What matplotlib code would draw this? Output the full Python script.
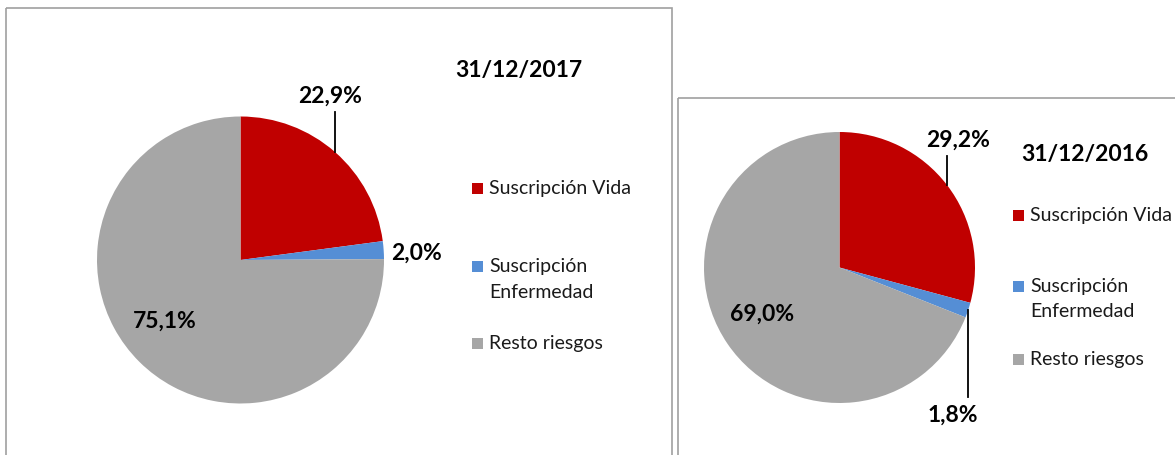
import textwrap
import numpy as np
import matplotlib
matplotlib.use("Agg")
import matplotlib.pyplot as plt
from matplotlib.patches import Rectangle

plt.rcParams['font.family'] = ['Lato', 'DejaVu Sans']

# ---- data ----
categories = ["Suscripción Vida", "Suscripción Enfermedad", "Resto riesgos"]
colors = ["#C00000", "#558ED5", "#A6A6A6"]
titles = ["31/12/2017", "31/12/2016"]
values_2017 = [22.9, 2.0, 75.1]
values_2016 = [29.2, 1.8, 69.0]
labels_2017 = ["22,9%", "2,0%", "75,1%"]
labels_2016 = ["29,2%", "1,8%", "69,0%"]

W, H = 1175, 455
fig = plt.figure(figsize=(W / 100, H / 100), dpi=100)

# ---- layout (pixels) ----
panels = [
    dict(values=values_2017, labels=labels_2017, title=titles[0],
         box=(6, 8, 672, 470), center=(240.5, 260), r=143.5,
         title_xy=(519, 77),
         label_xy=[(330, 103), (417, 260), (165, 328)],
         leader=[True, False, False],
         leg_x=472, leg_base=[194, 272, 349], leg_line=26),
    dict(values=values_2016, labels=labels_2016, title=titles[1],
         box=(678, 98, 1180, 470), center=(839.5, 267.5), r=135.5,
         title_xy=(1085, 161),
         label_xy=[(958, 147), (953, 422), (762, 321)],
         leader=[True, True, False],
         leg_x=1013, leg_base=[221, 292, 365], leg_line=25),
]

overlay = fig.add_axes([0, 0, 1, 1], zorder=5)
overlay.set_xlim(0, W)
overlay.set_ylim(H, 0)
overlay.axis('off')
overlay.patch.set_alpha(0)

for p in panels:
    cx, cy = p['center']
    r = p['r']
    ax = fig.add_axes([(cx - r) / W, (H - cy - r) / H, 2 * r / W, 2 * r / H])
    ax.pie(p['values'], colors=colors, startangle=90, counterclock=False,
           radius=1, wedgeprops=dict(linewidth=0))
    ax.set_xlim(-1, 1)
    ax.set_ylim(-1, 1)
    ax.set_aspect('equal')
    ax.axis('off')

    # box
    x0, y0, x1, y1 = p['box']
    overlay.add_patch(Rectangle((x0, y0), x1 - x0, y1 - y0, fill=False,
                                edgecolor='#A0A0A0', linewidth=1.2, clip_on=False))

    # title
    overlay.text(*p['title_xy'], p['title'], ha='center', va='baseline',
                 fontsize=16.5, fontweight='bold', color='black')

    # data labels + leader lines
    total = sum(p['values'])
    start = 90.0
    for v, lab, (lx, ly), lead in zip(p['values'], p['labels'], p['label_xy'], p['leader']):
        span = 360.0 * v / total
        mid = np.deg2rad(start - span / 2)
        start -= span
        overlay.text(lx, ly, lab, ha='center', va='baseline',
                     fontsize=16.5, fontweight='bold', color='black')
        if lead:
            ax_x = cx + r * np.cos(mid)
            ax_y = cy - r * np.sin(mid)
            if ly < ax_y:
                end_y = ly + 9
            else:
                end_y = ly - 25
            overlay.plot([ax_x, ax_x], [ax_y, end_y], color='black', lw=1.3)

    # legend
    for cat, col, base in zip(categories, colors, p['leg_base']):
        overlay.add_patch(Rectangle((p['leg_x'], base - 11), 11, 11,
                                    facecolor=col, edgecolor='none'))
        for i, line in enumerate(textwrap.wrap(cat, 16)):
            overlay.text(p['leg_x'] + 17, base + i * p['leg_line'], line,
                         ha='left', va='baseline', fontsize=14, color='#1a1a1a')

fig.savefig("out.png", dpi=100, facecolor='white')
